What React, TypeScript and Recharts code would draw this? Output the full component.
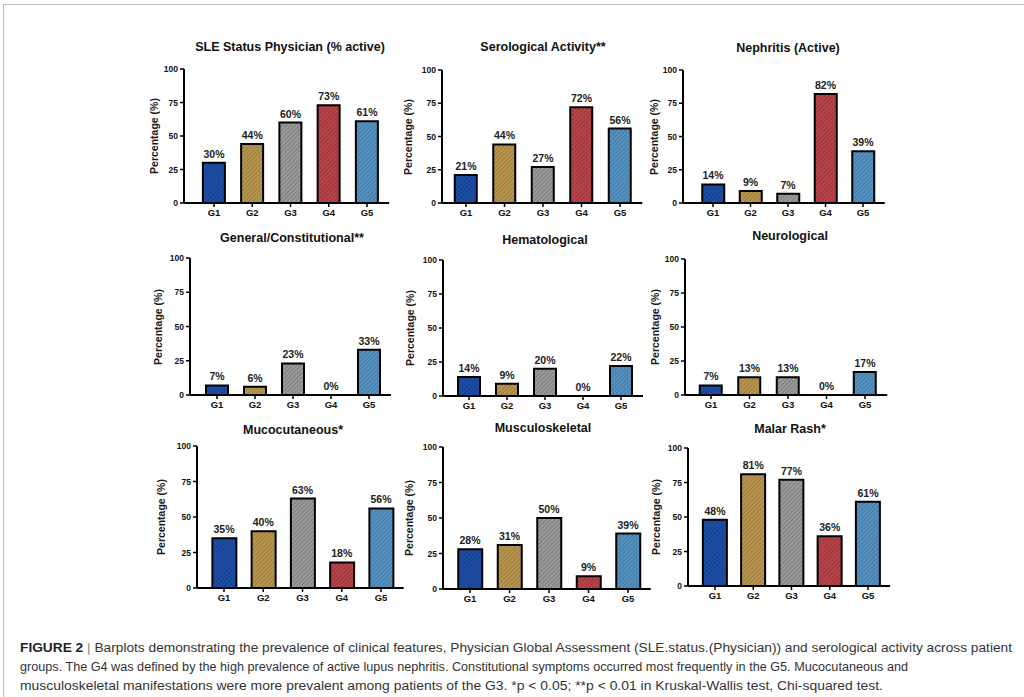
import React from "react";
import { ComposedChart, Bar, Line, XAxis, YAxis, Cell, LabelList } from "recharts";

const groups = ["G1", "G2", "G3", "G4", "G5"];
const groupColors = ["#1d4fa6", "#b8964f", "#9b9b9b", "#b8454b", "#5592c0"];
const stripeColors = ["#163f8a", "#9c7d3e", "#7d7d7d", "#9a343a", "#4379a3"];
const yTicks = [0, 25, 50, 75, 100];

const titles = [
  "SLE Status Physician (% active)",
  "Serological Activity**",
  "Nephritis (Active)",
  "General/Constitutional**",
  "Hematological",
  "Neurological",
  "Mucocutaneous*",
  "Musculoskeletal",
  "Malar Rash*",
];

const slePhysician = [30, 44, 60, 73, 61];
const serological = [21, 44, 27, 72, 56];
const nephritis = [14, 9, 7, 82, 39];
const constitutional = [7, 6, 23, 0, 33];
const hematological = [14, 9, 20, 0, 22];
const neurological = [7, 13, 13, 0, 17];
const mucocutaneous = [35, 40, 63, 18, 56];
const musculoskeletal = [28, 31, 50, 9, 39];
const malarRash = [48, 81, 77, 36, 61];

const panelValues = [
  slePhysician, serological, nephritis,
  constitutional, hematological, neurological,
  mucocutaneous, musculoskeletal, malarRash,
];

// where each panel sits on the page (pixels)
const panelLayout = [
  { axisX: 184, top: 69, zero: 203, g1: 214, g5: 367, bar: 22, titleX: 290, titleY: 47, labelX: 154 },
  { axisX: 442, top: 70, zero: 203, g1: 466, g5: 620, bar: 22, titleX: 543, titleY: 47, labelX: 408 },
  { axisX: 683, top: 70, zero: 203, g1: 713, g5: 863, bar: 22, titleX: 788, titleY: 48, labelX: 654 },
  { axisX: 190, top: 258, zero: 395, g1: 217, g5: 369, bar: 22, titleX: 292, titleY: 238, labelX: 158 },
  { axisX: 443, top: 260, zero: 396, g1: 469, g5: 621, bar: 22, titleX: 545, titleY: 240, labelX: 410 },
  { axisX: 685, top: 259, zero: 395, g1: 711, g5: 865, bar: 22, titleX: 790, titleY: 236, labelX: 655 },
  { axisX: 197, top: 446, zero: 588, g1: 224, g5: 381, bar: 24, titleX: 293, titleY: 430, labelX: 161 },
  { axisX: 443, top: 447, zero: 589, g1: 470, g5: 628, bar: 24, titleX: 543, titleY: 428, labelX: 409 },
  { axisX: 688, top: 448, zero: 586, g1: 715, g5: 868, bar: 24, titleX: 790, titleY: 429, labelX: 656 },
];

const captionLines = [
  "Barplots demonstrating the prevalence of clinical features, Physician Global Assessment (SLE.status.(Physician)) and serological activity across patient",
  "groups. The G4 was defined by the high prevalence of active lupus nephritis. Constitutional symptoms occurred most frequently in the G5. Mucocutaneous and",
  "musculoskeletal manifestations were more prevalent among patients of the G3. *p < 0.05; **p < 0.01 in Kruskal-Wallis test, Chi-squared test.",
];

const FONT = "Arial, 'Liberation Sans', Helvetica, sans-serif";
const Y_W = 40;
const M_TOP = 18;
const X_H = 28;

function Panel({ idx }: { idx: number }) {
  const lay = panelLayout[idx];
  const values = panelValues[idx];
  const step = (lay.g5 - lay.g1) / 4;
  const padL = lay.g1 - step / 2 - lay.axisX;
  const padR = 3;
  const plotW = padL + step * 5 + padR;
  const plotH = lay.zero - lay.top;
  const data = groups.map((g, i) => ({ group: g, value: values[i] }));

  return (
    <>
      <div
        style={{
          position: "absolute",
          left: lay.titleX - 150,
          top: lay.titleY - 8,
          width: 300,
          height: 16,
          lineHeight: "16px",
          textAlign: "center",
          fontSize: 12.5,
          fontWeight: 700,
          color: "#111",
        }}
      >
        {titles[idx]}
      </div>
      <div
        style={{
          position: "absolute",
          left: lay.labelX - 60,
          top: (lay.top + lay.zero) / 2 - 7,
          width: 120,
          height: 14,
          lineHeight: "14px",
          textAlign: "center",
          fontSize: 10.5,
          fontWeight: 700,
          color: "#1a1a1a",
          transform: "rotate(-90deg)",
          whiteSpace: "nowrap",
        }}
      >
        Percentage (%)
      </div>
      <div style={{ position: "absolute", left: lay.axisX - Y_W, top: lay.top - M_TOP }}>
        <ComposedChart
          width={Y_W + plotW + 4}
          height={M_TOP + plotH + X_H}
          data={data}
          margin={{ top: M_TOP, right: 4, bottom: 0, left: 0 }}
        >
          <XAxis
            dataKey="group"
            height={X_H}
            interval={0}
            padding={{ left: padL, right: padR }}
            axisLine={{ stroke: "#000", strokeWidth: 2 }}
            tickLine={{ stroke: "#000", strokeWidth: 1.5 }}
            tickSize={4}
            tick={{ fontSize: 9.5, fontWeight: 700, fill: "#111", fontFamily: FONT }}
          />
          <YAxis
            width={Y_W}
            domain={[0, 100]}
            ticks={yTicks}
            interval={0}
            axisLine={{ stroke: "#000", strokeWidth: 2 }}
            tickLine={{ stroke: "#000", strokeWidth: 1.5 }}
            tickSize={4}
            tick={{ fontSize: 8.5, fontWeight: 700, fill: "#111", fontFamily: FONT }}
          />
          <Bar dataKey="value" barSize={lay.bar} stroke="#000" strokeWidth={2} isAnimationActive={false}>
            {data.map((d, i) => (
              <Cell key={d.group} fill={`url(#hatch-${i})`} />
            ))}
          </Bar>
          <Line
            dataKey="value"
            stroke="none"
            dot={false}
            activeDot={false}
            isAnimationActive={false}
          >
            <LabelList
              dataKey="value"
              position="top"
              offset={5}
              formatter={(v: any) => `${v}%`}
              style={{ fontSize: 10.5, fontWeight: 700, fill: "#222", fontFamily: FONT }}
            />
          </Line>
        </ComposedChart>
      </div>
    </>
  );
}

export default function App() {
  return (
    <div
      style={{
        position: "absolute",
        left: 0,
        top: 0,
        width: 1024,
        height: 697,
        background: "#fff",
        overflow: "hidden",
        fontFamily: FONT,
      }}
    >
      <svg width={0} height={0} style={{ position: "absolute" }}>
        <defs>
          {groupColors.map((c, i) => (
            <pattern
              key={i}
              id={`hatch-${i}`}
              patternUnits="userSpaceOnUse"
              width={3}
              height={3}
              patternTransform="rotate(45)"
            >
              <rect x={0} y={0} width={3} height={3} fill={c} />
              <line x1={0.5} y1={0} x2={0.5} y2={3} stroke={stripeColors[i]} strokeWidth={1} />
            </pattern>
          ))}
        </defs>
      </svg>
      <div
        style={{
          position: "absolute",
          left: 3,
          top: 4,
          width: 1100,
          height: 800,
          borderLeft: "1px solid #bdbdbd",
          borderTop: "1px solid #bdbdbd",
        }}
      />
      {panelLayout.map((_, i) => (
        <Panel key={i} idx={i} />
      ))}
      <svg
        width={1024}
        height={70}
        style={{ position: "absolute", left: 0, top: 632 }}
      >
        {captionLines.map((line, i) => (
          <text
            key={i}
            x={20}
            y={20 + i * 19}
            fontSize={12.5}
            fill="#333"
            fontFamily={FONT}
            textLength={[992, 888, 863][i]}
            lengthAdjust="spacingAndGlyphs"
          >
            {i === 0 ? (
              <>
                <tspan fontWeight={700} fill="#222">FIGURE 2</tspan>
                <tspan fill="#888"> | </tspan>
                <tspan>{line}</tspan>
              </>
            ) : (
              line
            )}
          </text>
        ))}
      </svg>
    </div>
  );
}
